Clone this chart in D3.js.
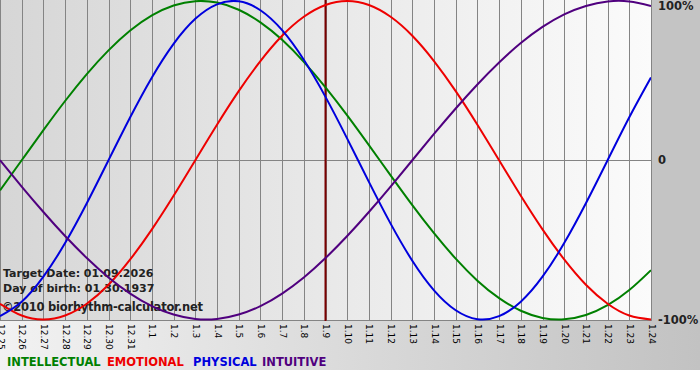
<!DOCTYPE html>
<html>
<head>
<meta charset="utf-8">
<script src="https://cdn.jsdelivr.net/npm/d3@7"></script>
<style>
    body { margin: 0; background: #fff; }
    text { font-family: "DejaVu Sans", Verdana, sans-serif; }
</style>
</head>
<body>
<div id="chart"></div>
<script>
// day labels along the bottom (month.day)
const days = ['12.25', '12.26', '12.27', '12.28', '12.29', '12.30', '12.31',
    '1.1', '1.2', '1.3', '1.4', '1.5', '1.6', '1.7', '1.8', '1.9', '1.10', '1.11', '1.12',
    '1.13', '1.14', '1.15', '1.16', '1.17', '1.18', '1.19', '1.20', '1.21', '1.22', '1.23', '1.24'];

// cycle values per day (-1 = -100%, 1 = 100%)
const intellectual = [-0.189, 0, 0.189, 0.372, 0.541, 0.690, 0.815, 0.910, 0.972, 0.999, 0.990, 0.945, 0.866,
    0.756, 0.618, 0.458, 0.282, 0.095, -0.095, -0.282, -0.458, -0.618, -0.756, -0.866, -0.945, -0.990, -0.999,
    -0.972, -0.910, -0.815, -0.690];
const emotional = [-0.901, -0.975, -1.0, -0.975, -0.901, -0.782, -0.623, -0.434, -0.223, 0, 0.223, 0.434, 0.623,
    0.782, 0.901, 0.975, 1.0, 0.975, 0.901, 0.782, 0.623, 0.434, 0.223, 0, -0.223, -0.434, -0.623, -0.782,
    -0.901, -0.975, -1.0];
const physical = [-0.979, -0.888, -0.731, -0.520, -0.270, 0, 0.270, 0.520, 0.731, 0.888, 0.979, 0.998, 0.942,
    0.817, 0.631, 0.398, 0.136, -0.136, -0.398, -0.631, -0.817, -0.942, -0.998, -0.979, -0.888, -0.731, -0.520,
    -0.270, 0, 0.270, 0.520];
const intuitive = [0, -0.165, -0.325, -0.476, -0.614, -0.736, -0.837, -0.916, -0.969, -0.997, -0.997, -0.969,
    -0.916, -0.837, -0.736, -0.614, -0.476, -0.325, -0.165, 0, 0.165, 0.325, 0.476, 0.614, 0.736, 0.837, 0.916,
    0.969, 0.997, 0.997, 0.969];

const targetDay = '1.9';
const infoLines = ['Target Date: 01.09.2026', 'Day of birth: 01.30.1937'];
const credit = '\u00a92010 biorhythm-calculator.net';
const yLabels = [['100%', 1], ['0', 0], ['-100%', -1]];

const cycles = [
    { name: 'INTELLECTUAL', values: intellectual, color: '#008000', legendX: 7 },
    { name: 'EMOTIONAL', values: emotional, color: '#ee0000', legendX: 107 },
    { name: 'PHYSICAL', values: physical, color: '#0000dd', legendX: 193 },
    { name: 'INTUITIVE', values: intuitive, color: '#50007f', legendX: 262 }
];

const width = 700, height = 380;
const plotW = 651, plotH = 321;

const svg = d3.select('#chart').append('svg')
    .attr('width', width)
    .attr('height', height);

const defs = svg.append('defs');

// plot background: gray on the left fading to near white
const plotGrad = defs.append('linearGradient').attr('id', 'plotGrad');
plotGrad.append('stop').attr('offset', '0%').attr('stop-color', '#d6d6d6');
plotGrad.append('stop').attr('offset', '100%').attr('stop-color', '#fbfbfb');

// bottom band: light on the left, darker on the right
const bandGrad = defs.append('linearGradient').attr('id', 'bandGrad');
bandGrad.append('stop').attr('offset', '0%').attr('stop-color', '#f2f2f2');
bandGrad.append('stop').attr('offset', '100%').attr('stop-color', '#c2c2c2');

defs.append('clipPath').attr('id', 'plotClip')
    .append('rect').attr('width', plotW).attr('height', plotH);

svg.append('rect').attr('y', plotH).attr('width', width).attr('height', 370 - plotH).attr('fill', 'url(#bandGrad)');
svg.append('rect').attr('x', plotW).attr('width', width - plotW).attr('height', plotH).attr('fill', '#c4c4c4');
svg.append('rect').attr('width', plotW).attr('height', plotH).attr('fill', 'url(#plotGrad)');

const x = d3.scalePoint().domain(days).range([0, plotW]);
const y = d3.scaleLinear().domain([-1, 1]).range([319.5, 1]);

// vertical day lines with rotated labels
const xAxis = svg.append('g')
    .attr('transform', `translate(0,${plotH})`)
    .call(d3.axisBottom(x).tickSize(-plotH).tickPadding(0));
xAxis.select('.domain').remove();
xAxis.selectAll('line').attr('stroke', '#848484').attr('shape-rendering', 'crispEdges');
xAxis.selectAll('text')
    .attr('font-size', 9)
    .attr('fill', '#000')
    .attr('text-anchor', 'start')
    .attr('dominant-baseline', 'central')
    .attr('y', 0)
    .attr('dy', null)
    .attr('transform', 'translate(0,3) rotate(90)');

// zero line and bottom edge
svg.append('line')
    .attr('x1', 0).attr('x2', plotW)
    .attr('y1', Math.floor(y(0)) + 0.5).attr('y2', Math.floor(y(0)) + 0.5)
    .attr('stroke', '#848484');
svg.append('line')
    .attr('x1', 0).attr('x2', plotW)
    .attr('y1', plotH - 0.5).attr('y2', plotH - 0.5)
    .attr('stroke', '#848484');

// right side percentage labels
svg.selectAll('.ylab').data(yLabels).join('text')
    .attr('class', 'ylab')
    .attr('x', 658)
    .attr('y', d => y(d[1]))
    .attr('dy', d => d[1] === 1 ? 9 : 4)
    .attr('font-size', 11.5)
    .attr('font-weight', 'bold')
    .attr('fill', '#222')
    .text(d => d[0]);

// info text in the lower left
svg.selectAll('.info').data(infoLines).join('text')
    .attr('class', 'info')
    .attr('x', 3)
    .attr('y', (d, i) => 277 + i * 14.5)
    .attr('font-size', 11)
    .attr('font-weight', 'bold')
    .attr('fill', '#222')
    .text(d => d);
svg.append('text')
    .attr('x', 2)
    .attr('y', 311)
    .attr('font-size', 11.5)
    .attr('font-weight', 'bold')
    .attr('fill', '#222')
    .attr('textLength', 201)
    .text(credit);

// target date marker
svg.append('line')
    .attr('x1', x(targetDay)).attr('x2', x(targetDay))
    .attr('y1', 0).attr('y2', plotH)
    .attr('stroke', '#7a0000')
    .attr('stroke-width', 2);

// cycle curves
const line = d3.line()
    .x((d, i) => x(days[i]))
    .y(d => y(d))
    .curve(d3.curveNatural);

svg.append('g').attr('clip-path', 'url(#plotClip)')
    .selectAll('path').data(cycles).join('path')
    .attr('d', d => line(d.values))
    .attr('fill', 'none')
    .attr('stroke', d => d.color)
    .attr('stroke-width', 2);

// legend
svg.selectAll('.legend').data(cycles).join('text')
    .attr('class', 'legend')
    .attr('x', d => d.legendX)
    .attr('y', 366)
    .attr('font-size', 11.5)
    .attr('font-weight', 'bold')
    .attr('fill', d => d.color)
    .text(d => d.name);
</script>
</body>
</html>
